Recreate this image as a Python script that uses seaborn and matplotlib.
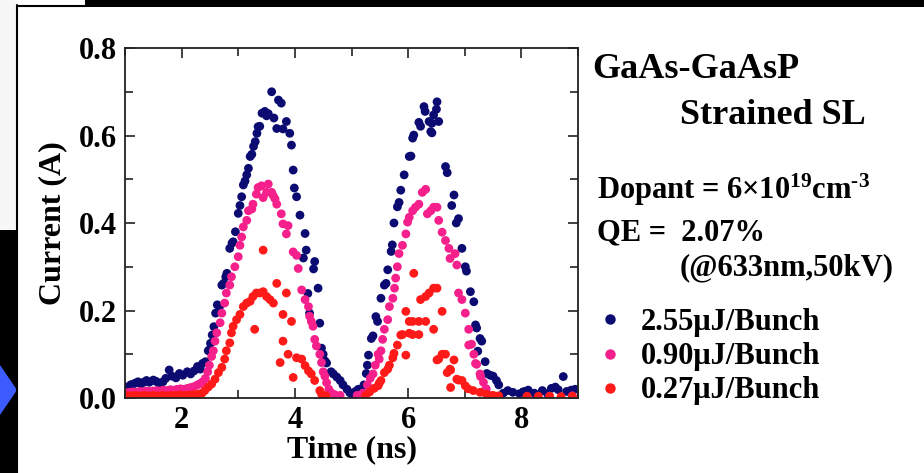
import pandas as pd
import seaborn as sns
import matplotlib.pyplot as plt
from matplotlib.lines import Line2D
from matplotlib.patches import Rectangle, Polygon
from matplotlib.ticker import MultipleLocator

# Photocurrent pulses: (time ns, current A)
blue_pts = [
    (1.02, 0.025), (1.05, 0.022), (1.10, 0.030), (1.13, 0.031), (1.18, 0.034), (1.23, 0.037),
    (1.28, 0.032), (1.33, 0.036), (1.38, 0.040), (1.43, 0.036), (1.50, 0.041), (1.55, 0.038),
    (1.60, 0.034), (1.67, 0.037), (1.72, 0.045), (1.78, 0.064), (1.83, 0.050), (1.90, 0.046),
    (1.96, 0.056), (2.02, 0.052), (2.10, 0.060), (2.16, 0.055), (2.22, 0.062), (2.28, 0.072),
    (2.33, 0.066), (2.37, 0.079), (2.42, 0.083), (2.47, 0.108), (2.49, 0.110), (2.51, 0.125),
    (2.54, 0.144), (2.57, 0.163), (2.60, 0.194), (2.63, 0.213), (2.67, 0.209), (2.71, 0.258),
    (2.74, 0.262), (2.78, 0.277), (2.80, 0.285), (2.85, 0.342), (2.89, 0.354), (2.91, 0.357),
    (2.95, 0.380), (3.00, 0.422), (3.03, 0.440), (3.06, 0.460), (3.09, 0.487), (3.12, 0.496),
    (3.15, 0.510), (3.18, 0.525), (3.21, 0.552), (3.24, 0.557), (3.27, 0.575), (3.30, 0.586),
    (3.33, 0.605), (3.35, 0.620), (3.38, 0.621), (3.42, 0.651), (3.47, 0.655), (3.50, 0.645),
    (3.53, 0.650), (3.59, 0.700), (3.63, 0.640), (3.68, 0.616), (3.71, 0.681), (3.76, 0.674),
    (3.79, 0.615), (3.85, 0.632), (3.91, 0.605), (3.94, 0.578), (3.97, 0.521), (3.99, 0.480),
    (4.03, 0.460), (4.09, 0.418), (4.18, 0.376), (4.20, 0.338), (4.15, 0.320), (4.35, 0.312),
    (4.33, 0.295), (4.41, 0.251), (4.23, 0.239), (4.26, 0.194), (4.44, 0.171), (4.47, 0.114),
    (4.50, 0.100), (4.53, 0.085), (4.56, 0.080), (4.64, 0.060), (4.68, 0.055), (4.74, 0.048),
    (4.80, 0.040), (4.85, 0.030), (4.92, 0.020), (4.97, 0.012), (5.02, 0.007), (5.07, 0.015),
    (5.12, 0.020), (5.17, 0.018), (5.22, 0.030), (5.26, 0.056), (5.28, 0.075), (5.30, 0.098),
    (5.35, 0.136), (5.38, 0.142), (5.43, 0.186), (5.46, 0.175), (5.52, 0.228), (5.58, 0.258),
    (5.61, 0.262), (5.64, 0.293), (5.70, 0.335), (5.72, 0.350), (5.75, 0.400), (5.81, 0.437),
    (5.84, 0.447), (5.87, 0.475), (5.93, 0.510), (6.02, 0.552), (6.05, 0.553), (6.10, 0.601),
    (6.08, 0.594), (6.19, 0.630), (6.22, 0.621), (6.28, 0.666), (6.30, 0.655), (6.37, 0.632),
    (6.40, 0.609), (6.42, 0.628), (6.45, 0.647), (6.50, 0.660), (6.51, 0.677), (6.54, 0.632),
    (6.42, 0.606), (6.66, 0.529), (6.69, 0.515), (6.81, 0.464), (6.77, 0.440), (6.89, 0.410),
    (6.85, 0.400), (6.95, 0.342), (7.01, 0.300), (7.03, 0.290), (7.10, 0.243), (7.16, 0.220),
    (7.19, 0.167), (7.21, 0.160), (7.27, 0.136), (7.30, 0.130), (7.23, 0.107), (7.36, 0.083),
    (7.39, 0.056), (7.45, 0.052), (7.50, 0.050), (7.56, 0.040), (7.60, 0.030), (7.68, 0.011),
    (7.76, 0.017), (7.85, 0.013), (7.97, 0.010), (8.05, 0.015), (8.12, 0.018), (8.23, 0.011),
    (8.37, 0.017), (8.46, 0.010), (8.53, 0.022), (8.60, 0.025), (8.65, 0.019), (8.74, 0.049),
    (8.80, 0.015), (8.88, 0.018), (8.95, 0.020),
]

pink_pts = [
    (1.02, 0.012), (1.08, 0.013), (1.14, 0.014), (1.20, 0.013), (1.26, 0.015), (1.32, 0.014),
    (1.38, 0.016), (1.44, 0.015), (1.50, 0.016), (1.56, 0.017), (1.62, 0.016), (1.68, 0.018),
    (1.74, 0.017), (1.80, 0.019), (1.86, 0.018), (1.92, 0.020), (1.98, 0.021), (2.04, 0.020),
    (2.10, 0.022), (2.16, 0.024), (2.22, 0.026), (2.28, 0.030), (2.33, 0.033), (2.37, 0.037),
    (2.42, 0.045), (2.46, 0.060), (2.49, 0.075), (2.53, 0.095), (2.56, 0.108), (2.59, 0.130),
    (2.62, 0.149), (2.68, 0.172), (2.71, 0.194), (2.76, 0.217), (2.79, 0.240), (2.85, 0.258),
    (2.88, 0.277), (2.94, 0.300), (3.00, 0.323), (3.03, 0.349), (3.06, 0.368), (3.09, 0.391),
    (3.15, 0.406), (3.18, 0.428), (3.24, 0.432), (3.26, 0.443), (3.32, 0.466), (3.35, 0.481),
    (3.41, 0.485), (3.44, 0.458), (3.50, 0.470), (3.53, 0.489), (3.59, 0.470), (3.62, 0.462),
    (3.65, 0.455), (3.68, 0.443), (3.76, 0.421), (3.79, 0.398), (3.88, 0.394), (3.85, 0.375),
    (3.97, 0.334), (4.03, 0.326), (4.06, 0.296), (4.12, 0.247), (4.18, 0.225), (4.24, 0.209),
    (4.26, 0.187), (4.29, 0.175), (4.32, 0.164), (4.35, 0.134), (4.38, 0.119), (4.44, 0.100),
    (4.47, 0.081), (4.50, 0.060), (4.53, 0.050), (4.56, 0.035), (4.60, 0.020), (4.64, 0.012),
    (4.70, 0.008), (4.80, 0.006), (5.10, 0.006), (5.20, 0.011), (5.28, 0.030), (5.33, 0.045),
    (5.38, 0.055), (5.42, 0.075), (5.47, 0.100), (5.49, 0.089), (5.52, 0.108), (5.55, 0.134),
    (5.58, 0.157), (5.64, 0.179), (5.67, 0.209), (5.73, 0.228), (5.76, 0.251), (5.78, 0.274),
    (5.81, 0.300), (5.84, 0.330), (5.90, 0.349), (5.96, 0.375), (5.99, 0.402), (6.02, 0.413),
    (6.08, 0.428), (6.13, 0.436), (6.19, 0.443), (6.25, 0.470), (6.31, 0.477), (6.34, 0.421),
    (6.40, 0.428), (6.45, 0.436), (6.51, 0.436), (6.54, 0.406), (6.60, 0.379), (6.66, 0.360),
    (6.72, 0.342), (6.74, 0.319), (6.83, 0.330), (6.86, 0.304), (6.89, 0.240), (6.95, 0.225),
    (7.01, 0.194), (7.07, 0.157), (7.07, 0.121), (7.12, 0.123), (7.16, 0.100), (7.19, 0.079),
    (7.21, 0.077), (7.27, 0.055), (7.28, 0.049), (7.33, 0.036), (7.36, 0.018), (7.38, 0.021),
    (7.44, 0.006), (7.55, 0.004), (8.10, 0.003), (8.50, 0.004), (8.90, 0.005),
]

red_pts = [
    (1.02, 0.006), (1.10, 0.005), (1.18, 0.006), (1.26, 0.005), (1.34, 0.006), (1.42, 0.005),
    (1.50, 0.006), (1.58, 0.005), (1.66, 0.006), (1.74, 0.005), (1.82, 0.006), (1.90, 0.006),
    (1.98, 0.007), (2.06, 0.006), (2.14, 0.007), (2.22, 0.008), (2.30, 0.009), (2.36, 0.011),
    (2.41, 0.017), (2.47, 0.025), (2.53, 0.032), (2.59, 0.043), (2.65, 0.058), (2.71, 0.070),
    (2.76, 0.089), (2.79, 0.108), (2.85, 0.126), (2.88, 0.149), (2.91, 0.164), (2.97, 0.179),
    (3.03, 0.191), (3.09, 0.209), (3.15, 0.217), (3.21, 0.221), (3.26, 0.232), (3.29, 0.157),
    (3.32, 0.240), (3.38, 0.240), (3.44, 0.243), (3.44, 0.338), (3.50, 0.232), (3.56, 0.225),
    (3.62, 0.217), (3.68, 0.262), (3.79, 0.191), (3.85, 0.240), (3.94, 0.175), (3.79, 0.130),
    (3.74, 0.081), (3.88, 0.100), (3.97, 0.047), (4.03, 0.092), (4.12, 0.089), (4.18, 0.074),
    (4.24, 0.062), (4.29, 0.055), (4.35, 0.040), (4.44, 0.017), (4.47, 0.009), (4.55, 0.005),
    (5.25, 0.006), (5.32, 0.014), (5.40, 0.022), (5.47, 0.028), (5.49, 0.034), (5.52, 0.040),
    (5.58, 0.058), (5.64, 0.066), (5.67, 0.075), (5.73, 0.092), (5.75, 0.102), (5.81, 0.121),
    (5.87, 0.144), (5.90, 0.145), (5.96, 0.098), (5.96, 0.198), (6.02, 0.175), (6.02, 0.148),
    (6.08, 0.175), (6.08, 0.145), (6.10, 0.285), (6.19, 0.145), (6.19, 0.175), (6.22, 0.225),
    (6.31, 0.232), (6.37, 0.240), (6.45, 0.251), (6.51, 0.251), (6.31, 0.175), (6.45, 0.157),
    (6.60, 0.198), (6.51, 0.087), (6.54, 0.089), (6.60, 0.100), (6.66, 0.100), (6.74, 0.066),
    (6.75, 0.064), (6.81, 0.087), (6.69, 0.058), (6.86, 0.043), (6.89, 0.041), (6.75, 0.024),
    (6.95, 0.040), (7.01, 0.028), (7.06, 0.021), (7.15, 0.017), (7.27, 0.013), (7.38, 0.009),
    (7.50, 0.006), (7.60, 0.005), (8.10, 0.004), (8.30, 0.004), (8.50, 0.004), (8.70, 0.003),
    (8.90, 0.004),
]

series_labels = ["2.55\u03bcJ/Bunch", "0.90\u03bcJ/Bunch", "0.27\u03bcJ/Bunch"]
series_colors = ["#0b0b72", "#f5208c", "#ff1a1a"]
x_ticks = [2, 4, 6, 8]
y_ticks = [0.0, 0.2, 0.4, 0.6, 0.8]

rows = []
for label, pts in zip(series_labels, [blue_pts, pink_pts, red_pts]):
    for t, cur in pts:
        rows.append({"time": t, "current": cur, "series": label})
df = pd.DataFrame(rows)

sns.set_style("ticks")
plt.rcParams["font.family"] = ["Liberation Serif", "DejaVu Serif"]
plt.rcParams["font.weight"] = "bold"
plt.rcParams["text.color"] = "black"
plt.rcParams["axes.labelcolor"] = "black"
plt.rcParams["xtick.color"] = "black"
plt.rcParams["ytick.color"] = "black"
plt.rcParams["mathtext.fontset"] = "custom"
plt.rcParams["mathtext.rm"] = "Liberation Serif:bold"
plt.rcParams["mathtext.bf"] = "Liberation Serif:bold"
plt.rcParams["mathtext.it"] = "Liberation Serif:bold:italic"

W, H = 924, 473
fig = plt.figure(figsize=(W / 100, H / 100), dpi=100)
fig.patch.set_facecolor("white")

# slide frame decorations
fig.add_artist(Rectangle((85 / W, 1 - 7 / H), 1, 7 / H, transform=fig.transFigure, color="black", lw=0))
fig.add_artist(Rectangle((0, 1 - 230 / H), 17 / W, 230 / H, transform=fig.transFigure, color="#f7f7f7", lw=0))
fig.add_artist(Rectangle((0, 0), 17 / W, 1 - 230 / H, transform=fig.transFigure, color="black", lw=0))
fig.add_artist(Line2D([17 / W, 17 / W], [0, 1 - 5 / H], transform=fig.transFigure, color="black", lw=1.5))
fig.add_artist(Line2D([17 / W, 85 / W], [1 - 6 / H, 1 - 6 / H], transform=fig.transFigure, color="black", lw=1.5))
fig.add_artist(Polygon([(0, 1 - 365 / H), (17 / W, 1 - 390 / H), (0, 1 - 415 / H)],
                       closed=True, transform=fig.transFigure, color="#3d5cff", lw=0))

ax = fig.add_axes([125 / W, 1 - 398 / H, 453 / W, 350 / H])
sns.scatterplot(data=df, x="time", y="current", hue="series", hue_order=series_labels,
                palette=dict(zip(series_labels, series_colors)), s=40, linewidth=0,
                legend=False, ax=ax)

ax.set_xlim(1, 9)
ax.set_ylim(0, 0.8)
ax.set_xticks(x_ticks)
ax.set_yticks(y_ticks)
ax.set_yticklabels([f"{v:.1f}" for v in y_ticks])
ax.xaxis.set_minor_locator(MultipleLocator(1))
ax.yaxis.set_minor_locator(MultipleLocator(0.1))
ax.tick_params(which="both", direction="in", top=True, right=True, width=1.2, color="#222222",
               labelsize=22, labelcolor="black")
ax.tick_params(which="major", length=7, pad=6)
ax.tick_params(which="minor", length=6)
for sp in ax.spines.values():
    sp.set_linewidth(1.3)
    sp.set_color("#222222")
ax.set_xlabel("Time (ns)", fontsize=23, fontweight="bold", labelpad=0)
ax.set_ylabel("Current (A)", fontsize=23, fontweight="bold", labelpad=8)

# annotations to the right of the plot
fig.text(592 / W, 1 - 70 / H, "GaAs-GaAsP", fontsize=26, fontweight="bold", va="center")
fig.text(680 / W, 1 - 115 / H, "Strained SL", fontsize=26, fontweight="bold", va="center")
fig.text(597 / W, 1 - 190 / H, "Dopant = 6\u00d710$^{19}$cm$^{\u2010 3}$", fontsize=22,
         fontweight="bold", va="center")
fig.text(597 / W, 1 - 233 / H, "QE =  2.07%", fontsize=22, fontweight="bold", va="center")
fig.text(680 / W, 1 - 268 / H, "(@633nm,50kV)", fontsize=22, fontweight="bold", va="center")

handles = [Line2D([], [], ls="none", marker="o", markersize=7.5, markerfacecolor=c,
                  markeredgewidth=0) for c in series_colors]
fig.legend(handles, series_labels, loc="upper left", bbox_to_anchor=(592 / W, 1 - 308 / H),
           frameon=False, fontsize=22, handletextpad=0.4, labelspacing=0.17,
           borderaxespad=0, borderpad=0, handlelength=1.2)

plt.savefig("out.png", dpi=100)
